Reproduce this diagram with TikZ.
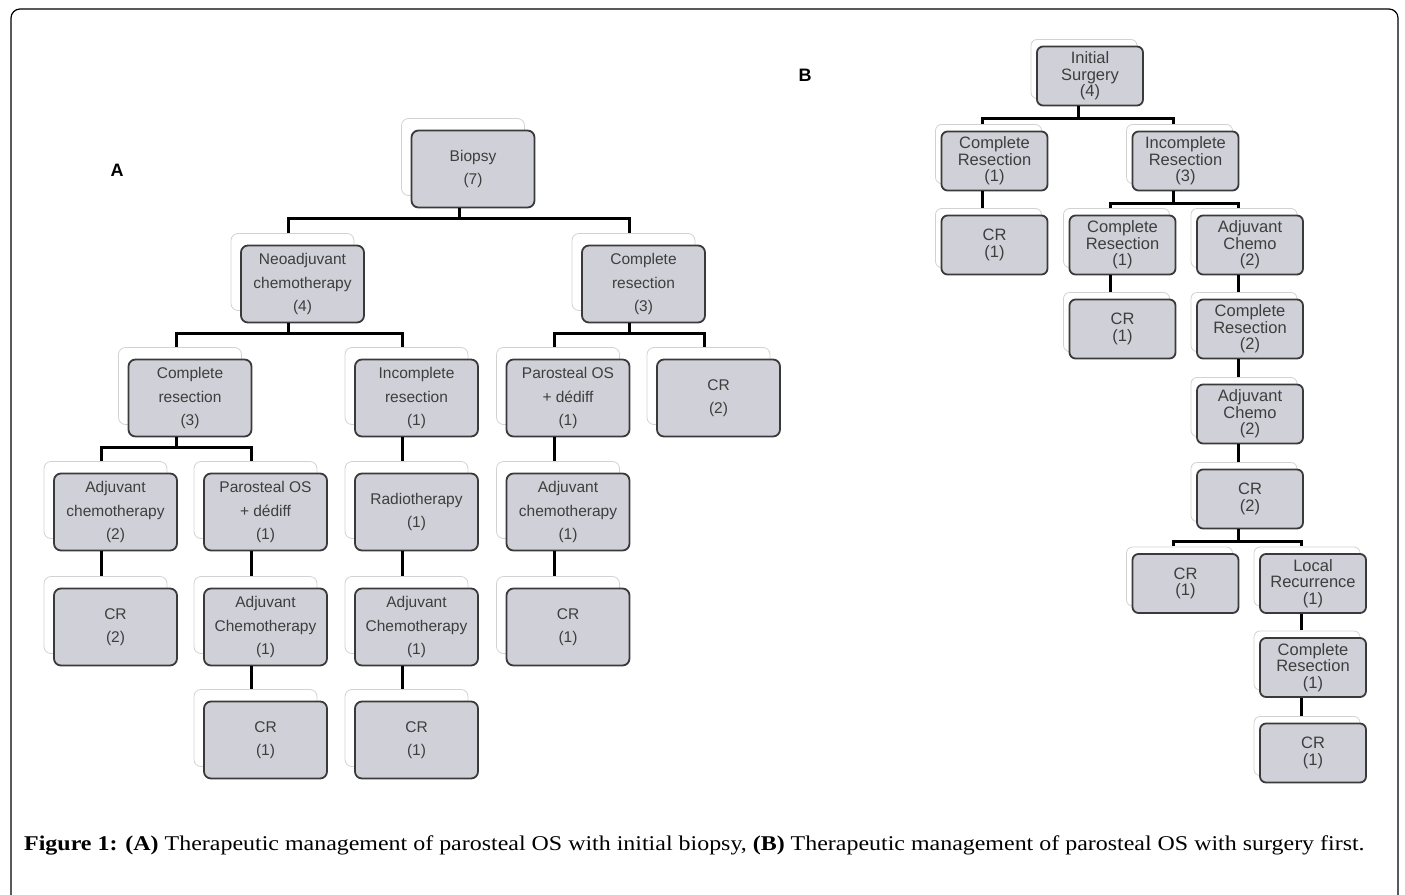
\documentclass[tikz,border=0pt]{standalone}
\usepackage{fontspec}
\setmainfont{Liberation Serif}
\newfontfamily\boxfont{Liberation Sans}
\usetikzlibrary{shadows}

\definecolor{boxfill}{RGB}{208,208,216}
\definecolor{boxline}{RGB}{58,58,58}
\definecolor{boxtext}{RGB}{62,62,62}

\tikzset{
  boxa/.style={draw=boxline, fill=boxfill, line width=1.8pt, rounded corners=7pt,
    minimum width=123pt, minimum height=77pt, inner sep=2pt, align=center, text=boxtext,
    font=\boxfont\fontsize{15.5}{23.5}\selectfont,
    general shadow={shadow xshift=-10pt, shadow yshift=12pt, fill=white, draw=gray!35, line width=0.8pt}},
  boxb/.style={draw=boxline, fill=boxfill, line width=1.8pt, rounded corners=6pt,
    minimum width=106pt, minimum height=59pt, inner sep=1pt, align=center, text=boxtext,
    font=\boxfont\fontsize{16.5}{16.5}\selectfont,
    general shadow={shadow xshift=-6pt, shadow yshift=7pt, fill=white, draw=gray!35, line width=0.8pt}},
  conn/.style={line width=3pt, black},
  panel/.style={font=\boxfont\bfseries\fontsize{18}{20}\selectfont}
}

% connector: parent, child, offset of stem, drop to bar, shadow lift
\newcommand{\tie}[5]{\draw[conn] ([xshift=-#3]#1.south) -- ++(0,#4) -| ([xshift=-#3, yshift=#5]#2.north);}

\begin{document}
\begin{tikzpicture}[x=1pt, y=-1pt]
    \useasboundingbox (0,0) rectangle (1405,894);
    \draw[line width=1.2pt, rounded corners=9pt] (11,9) rectangle (1398,910);

    % Panel A
    \node[panel] (labA) at (117,170) {A};
    \node[boxa] (bio) at (473,169) {Biopsy\\(7)};
    \node[boxa] (neo) at (302.5,284) {Neoadjuvant\\chemotherapy\\(4)};
    \node[boxa] (rsR) at (643.5,284) {Complete\\resection\\(3)};
    \node[boxa] (rsL) at (190,398) {Complete\\resection\\(3)};
    \node[boxa] (inc) at (416.5,398) {Incomplete\\resection\\(1)};
    \node[boxa] (parR) at (568,398) {Parosteal OS\\+ dédiff\\(1)};
    \node[boxa] (crR) at (718.5,398) {CR\\(2)};
    \node[boxa] (adjL) at (115.5,512) {Adjuvant\\chemotherapy\\(2)};
    \node[boxa] (parL) at (265.5,512) {Parosteal OS\\+ dédiff\\(1)};
    \node[boxa] (rad) at (416.5,512) {Radiotherapy\\(1)};
    \node[boxa] (adjR) at (568,512) {Adjuvant\\chemotherapy\\(1)};
    \node[boxa] (crL) at (115.5,627) {CR\\(2)};
    \node[boxa] (chA) at (265.5,627) {Adjuvant\\Chemotherapy\\(1)};
    \node[boxa] (chB) at (416.5,627) {Adjuvant\\Chemotherapy\\(1)};
    \node[boxa] (crM) at (568,627) {CR\\(1)};
    \node[boxa] (crA) at (265.5,740) {CR\\(1)};
    \node[boxa] (crB) at (416.5,740) {CR\\(1)};

    \foreach \p/\c in {bio/neo, bio/rsR, neo/rsL, neo/inc, rsR/parR, rsR/crR,
                       rsL/adjL, rsL/parL, inc/rad, parR/adjR, adjL/crL,
                       parL/chA, rad/chB, adjR/crM, chA/crA, chB/crB}
      \tie{\p}{\c}{14pt}{10}{12pt};

    % Panel B
    \node[panel] (labB) at (805,75) {B};
    \node[boxb] (ini) at (1090,76) {Initial\\Surgery\\(4)};
    \node[boxb] (sCo) at (994.5,161) {Complete\\Resection\\(1)};
    \node[boxb] (sIn) at (1185.5,161) {Incomplete\\Resection\\(3)};
    \node[boxb] (sCr) at (994.5,245) {CR\\(1)};
    \node[boxb] (sCo2) at (1122.5,245) {Complete\\Resection\\(1)};
    \node[boxb] (sAd) at (1250,245) {Adjuvant\\Chemo\\(2)};
    \node[boxb] (sCr2) at (1122.5,329) {CR\\(1)};
    \node[boxb] (sCo3) at (1250,329) {Complete\\Resection\\(2)};
    \node[boxb] (sAd2) at (1250,414) {Adjuvant\\Chemo\\(2)};
    \node[boxb] (sCr3) at (1250,499) {CR\\(2)};
    \node[boxb] (sCr4) at (1185.5,583.5) {CR\\(1)};
    \node[boxb] (sLoc) at (1313,583.5) {Local\\Recurrence\\(1)};
    \node[boxb] (sCo4) at (1313,667.5) {Complete\\Resection\\(1)};
    \node[boxb] (sCr5) at (1313,753) {CR\\(1)};

    \foreach \p/\c in {ini/sCo, ini/sIn, sCo/sCr, sIn/sCo2, sIn/sAd, sCo2/sCr2,
                       sAd/sCo3, sCo3/sAd2, sAd2/sCr3, sCr3/sCr4, sCr3/sLoc,
                       sLoc/sCo4, sCo4/sCr5}
      \tie{\p}{\c}{12pt}{12}{7pt};

    % Caption
    \node[anchor=west, inner sep=0pt, font=\fontsize{21}{24}\selectfont] (cap) at (24,845)
      {\scalebox{1.14}[1]{\textbf{Figure 1:} \textbf{(A)} Therapeutic management of parosteal OS with initial biopsy, \textbf{(B)} Therapeutic management of parosteal OS with surgery first.}};
\end{tikzpicture}
\end{document}
